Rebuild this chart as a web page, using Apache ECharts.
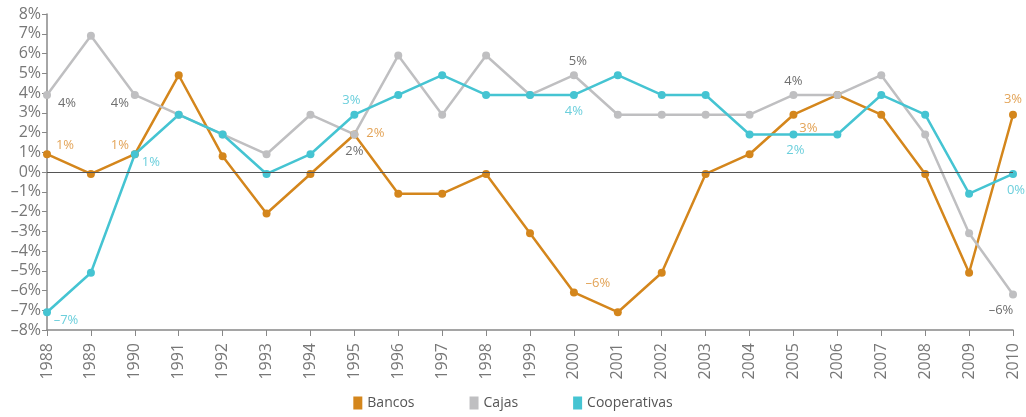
<!DOCTYPE html>
<html>
<head>
<meta charset="utf-8">
<script src="https://cdn.jsdelivr.net/npm/echarts@6/dist/echarts.min.js"></script>
<style>
  html, body { margin: 0; padding: 0; background: #fff; }
  #chart1 { width: 1026px; height: 417px; }
</style>
</head>
<body>
<div id="chart1"></div>
<script>
var years = ['1988','1989','1990','1991','1992','1993','1994','1995','1996','1997','1998','1999',
    '2000','2001','2002','2003','2004','2005','2006','2007','2008','2009','2010'];
var bancos = [0.9, -0.1, 0.9, 4.9, 0.8, -2.1, -0.1, 1.9, -1.1, -1.1, -0.1, -3.1,
    -6.1, -7.1, -5.1, -0.1, 0.9, 2.9, 3.9, 2.9, -0.1, -5.1, 2.9];
var cajas = [3.9, 6.9, 3.9, 2.9, 1.9, 0.9, 2.9, 1.9, 5.9, 2.9, 5.9, 3.9,
    4.9, 2.9, 2.9, 2.9, 2.9, 3.9, 3.9, 4.9, 1.9, -3.1, -6.2];
var cooperativas = [-7.1, -5.1, 0.9, 2.9, 1.9, -0.1, 0.9, 2.9, 3.9, 4.9, 3.9, 3.9,
    3.9, 4.9, 3.9, 3.9, 1.9, 1.9, 1.9, 3.9, 2.9, -1.1, -0.1];
var yTicks = [-8, -7, -6, -5, -4, -3, -2, -1, 0, 1, 2, 3, 4, 5, 6, 7, 8];

// puntos con etiqueta: indice -> posicion [x, y] relativa al punto
var bancosLabels = {0: [18, -9], 2: [-15, -9], 7: [21, -1], 12: [24, -9], 17: [15, 14], 22: [0, -15]};
var cajasLabels = {0: [20, 8], 2: [-15, 8], 7: [0, 17], 12: [4, -14], 17: [0, -14], 22: [-12, 16]};
var coopLabels = {0: [19, 8], 2: [16, 8], 7: [-3, -14], 12: [0, 16], 17: [2, 16], 22: [3, 16]};

var chart1 = echarts.init(document.getElementById('chart1'));
var fontFam = '"Open Sans", sans-serif';

function buildData(values, labels, labelColor) {
    return values.map(function (v, i) {
        var item = {value: v};
        if (labels[i]) {
            item.label = {
                show: true,
                position: 'inside',
                offset: labels[i],
                color: labelColor,
                fontSize: 13,
                fontFamily: fontFam,
                formatter: function (p) {
                    var r = Math.round(p.value);
                    return (r < 0 ? '\u2013' + Math.abs(r) : r) + '%';
                }
            };
        }
        return item;
    });
}

function mkSeries(name, values, labels, color, labelColor) {
    return {
        name: name,
        type: 'line',
        data: buildData(values, labels, labelColor),
        symbol: 'circle',
        symbolSize: 8,
        lineStyle: {color: color, width: 2.5},
        itemStyle: {color: color},
        label: {show: false},
        emphasis: {disabled: true},
        animation: false
    };
}

var series = [
    mkSeries('Bancos', bancos, bancosLabels, '#d4861c', '#e3a458'),
    mkSeries('Cajas', cajas, cajasLabels, '#bfbfc1', '#6f6f6f'),
    mkSeries('Cooperativas', cooperativas, coopLabels, '#45c4d2', '#6ccfdc')
];
series[0].markLine = {
    silent: true,
    symbol: 'none',
    label: {show: false},
    lineStyle: {color: '#555', width: 1, type: 'solid'},
    data: [{yAxis: 0}],
    animation: false
};

var option = {
    animation: false,
    grid: {left: 47, right: 13, top: 14, bottom: 87, containLabel: false},
    legend: {
        bottom: 2,
        left: 'center',
        itemGap: 55,
        icon: 'rect',
        itemWidth: 9,
        itemHeight: 13,
        textStyle: {color: '#555', fontSize: 14, fontFamily: fontFam},
        data: ['Bancos', 'Cajas', 'Cooperativas']
    },
    xAxis: {
        type: 'category',
        data: years,
        boundaryGap: false,
        axisLine: {onZero: false, lineStyle: {color: '#888', width: 1.5}},
        axisTick: {show: true, length: 6, alignWithLabel: true, lineStyle: {color: '#888'}},
        axisLabel: {
            rotate: 90,
            interval: 0,
            margin: 13,
            color: '#777',
            fontSize: 16,
            fontFamily: fontFam
        },
        splitLine: {show: false}
    },
    yAxis: {
        type: 'value',
        min: yTicks[0],
        max: yTicks[yTicks.length - 1],
        interval: 1,
        axisLine: {show: true, lineStyle: {color: '#888', width: 1.5}},
        axisTick: {show: true, length: 5, lineStyle: {color: '#888'}},
        axisLabel: {
            margin: 6,
            color: '#777',
            fontSize: 16,
            fontFamily: fontFam,
            formatter: function (v) {
                return (v < 0 ? '\u2013' + Math.abs(v) : v) + '%';
            }
        },
        splitLine: {show: false}
    },
    series: series
};
chart1.setOption(option, true);
</script>
</body>
</html>
